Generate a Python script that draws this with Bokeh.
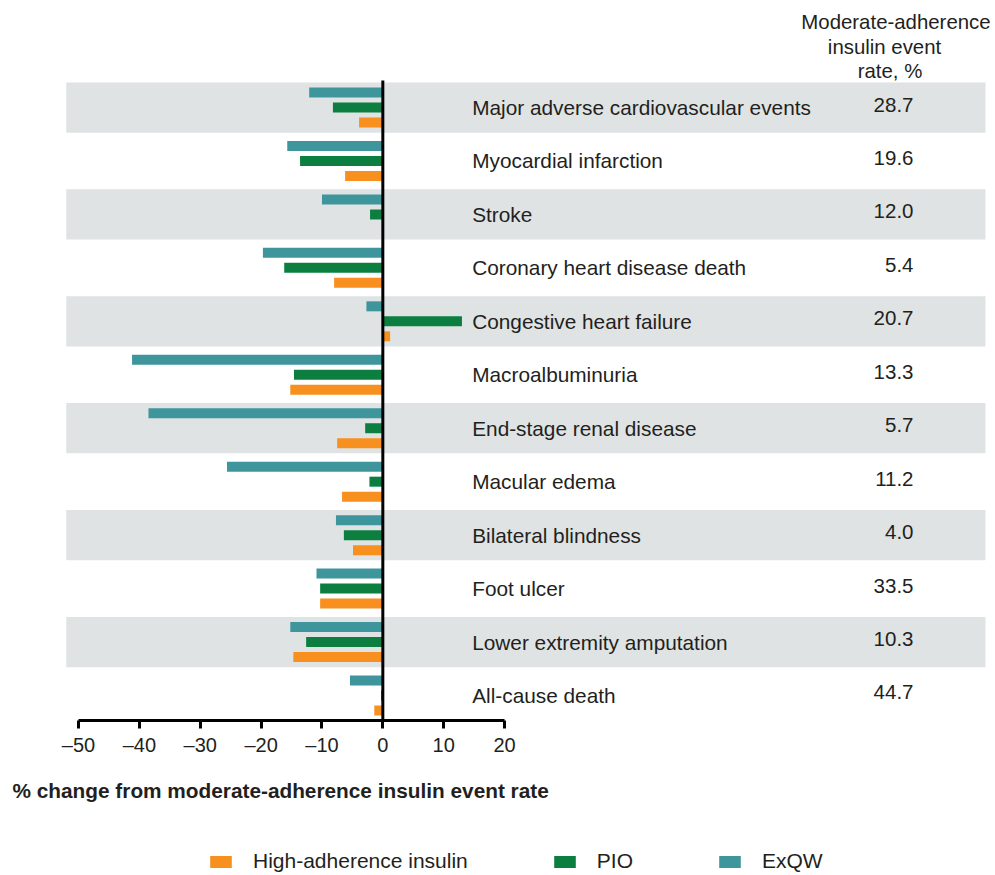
from bokeh.plotting import figure
from bokeh.models import (Range1d, FixedTicker, LinearAxis, Legend, LegendItem)
from bokeh.layouts import column
from bokeh.core.properties import value
from bokeh.embed import file_html
from bokeh.resources import INLINE

categories = ["Major adverse cardiovascular events", "Myocardial infarction", "Stroke",
              "Coronary heart disease death", "Congestive heart failure", "Macroalbuminuria",
              "End-stage renal disease", "Macular edema", "Bilateral blindness",
              "Foot ulcer", "Lower extremity amputation", "All-cause death"]
high_adherence = [-3.9, -6.2, 0.0, -8.0, 1.2, -15.2, -7.5, -6.7, -4.9, -10.3, -14.7, -1.4]
pio = [-8.2, -13.6, -2.1, -16.2, 13.0, -14.6, -2.9, -2.2, -6.4, -10.3, -12.6, -0.3]
exqw = [-12.1, -15.7, -10.0, -19.7, -2.7, -41.2, -38.5, -25.6, -7.7, -10.9, -15.2, -5.4]
rates = ["28.7", "19.6", "12.0", "5.4", "20.7", "13.3", "5.7", "11.2", "4.0", "33.5", "10.3", "44.7"]
header_lines = ["Moderate-adherence", "insulin event", "rate, %"]
tick_values = [-50, -40, -30, -20, -10, 0, 10, 20]
tick_labels = ["\u201350", "\u201340", "\u201330", "\u201320", "\u201310", "0", "10", "20"]
series_names = ["High-adherence insulin", "PIO", "ExQW"]
series_colors = ["#f7901e", "#0c7f40", "#3f959c"]
x_title = "% change from moderate-adherence insulin event rate"

n = len(categories)
ypos = [n - 1 - i for i in range(n)]

FONT = "Liberation Sans"
TXT = "#231f20"

p = figure(frame_width=995, frame_height=720, output_backend="svg", toolbar_location=None,
           x_range=Range1d(-62.81, 100.65), y_range=Range1d(-0.468, 13.002),
           x_axis_location=None, y_axis_location=None,
           min_border_left=0, min_border_right=0, min_border_top=0, min_border_bottom=0)
p.grid.visible = False
p.outline_line_color = None
p.background_fill_color = "white"
p.border_fill_color = "white"

# alternating bands
band_y = [ypos[i] for i in range(0, n, 2)]
p.quad(left=-52, right=99, bottom=[y - 0.47 for y in band_y], top=[y + 0.47 for y in band_y],
       fill_color="#dfe3e3", line_color=None)

bh = 10 / 53.45
off = 15 / 53.45
for vals, col, dy in zip([high_adherence, pio, exqw], series_colors, [-off, 0, off]):
    p.hbar(y=[y + dy for y in ypos], left=0, right=vals, height=bh,
           fill_color=col, line_color=None)

# zero line
p.segment(x0=[0], y0=[-0.468], x1=[0], y1=[11.505], line_color="black", line_width=3)

# category labels
p.text(x=[14.68] * n, y=ypos, text=categories, text_font=value(FONT), text_font_size="20.8px",
       text_color=TXT, text_baseline="middle", text_align="left")
# rate labels
p.text(x=[87.18] * n, y=[y + 0.056 for y in ypos], text=rates, text_font=value(FONT),
       text_font_size="20.5px", text_color=TXT, text_baseline="middle", text_align="right")
# header
p.text(x=[84.3, 82.42, 83.32], y=[12.596, 12.141, 11.692], text=header_lines,
       text_font=value(FONT), text_font_size="20.4px", text_color=TXT,
       text_baseline="middle", text_align="center")

xaxis = LinearAxis(bounds=(-50, 20), ticker=FixedTicker(ticks=tick_values),
                   major_label_overrides={v: l for v, l in zip(tick_values, tick_labels)})
xaxis.axis_line_width = 3
xaxis.axis_line_color = "black"
xaxis.major_tick_line_width = 3
xaxis.major_tick_line_color = "black"
xaxis.major_tick_out = 8
xaxis.major_tick_in = 0
xaxis.minor_tick_out = 0
xaxis.minor_tick_in = 0
xaxis.major_label_text_font = FONT
xaxis.major_label_text_font_size = "20px"
xaxis.major_label_text_color = TXT
xaxis.major_label_standoff = 5
p.add_layout(xaxis, "below")

# bottom strip: axis title (left aligned) and legend
H2 = 116
pl = figure(width=995, height=H2, output_backend="svg", toolbar_location=None,
            x_range=Range1d(0, 995), y_range=Range1d(0, H2),
            x_axis_location=None, y_axis_location=None,
            min_border_left=0, min_border_right=0, min_border_top=0, min_border_bottom=0)
pl.grid.visible = False
pl.outline_line_color = None
pl.border_fill_color = "white"
pl.text(x=[12], y=[84], text=[x_title], text_font=value(FONT), text_font_size="20.8px",
        text_font_style="bold", text_color=TXT, text_baseline="middle", text_align="left")
leg_renderers = [pl.hbar(y=[-50], left=[-50], right=[-40], height=1, fill_color=c, line_color=None)
                 for c in series_colors]
legend = Legend(items=[LegendItem(label=nm, renderers=[r]) for nm, r in zip(series_names, leg_renderers)],
                orientation="horizontal", glyph_width=27, glyph_height=15, label_standoff=19,
                spacing=83, padding=0, margin=0, border_line_color=None, background_fill_alpha=0,
                label_text_font=FONT, label_text_font_size="21px", label_text_color=TXT,
                location=(207, 1))
pl.add_layout(legend)

layout = column(p, pl, spacing=0)
open("out.html", "w").write(file_html(layout, INLINE))
